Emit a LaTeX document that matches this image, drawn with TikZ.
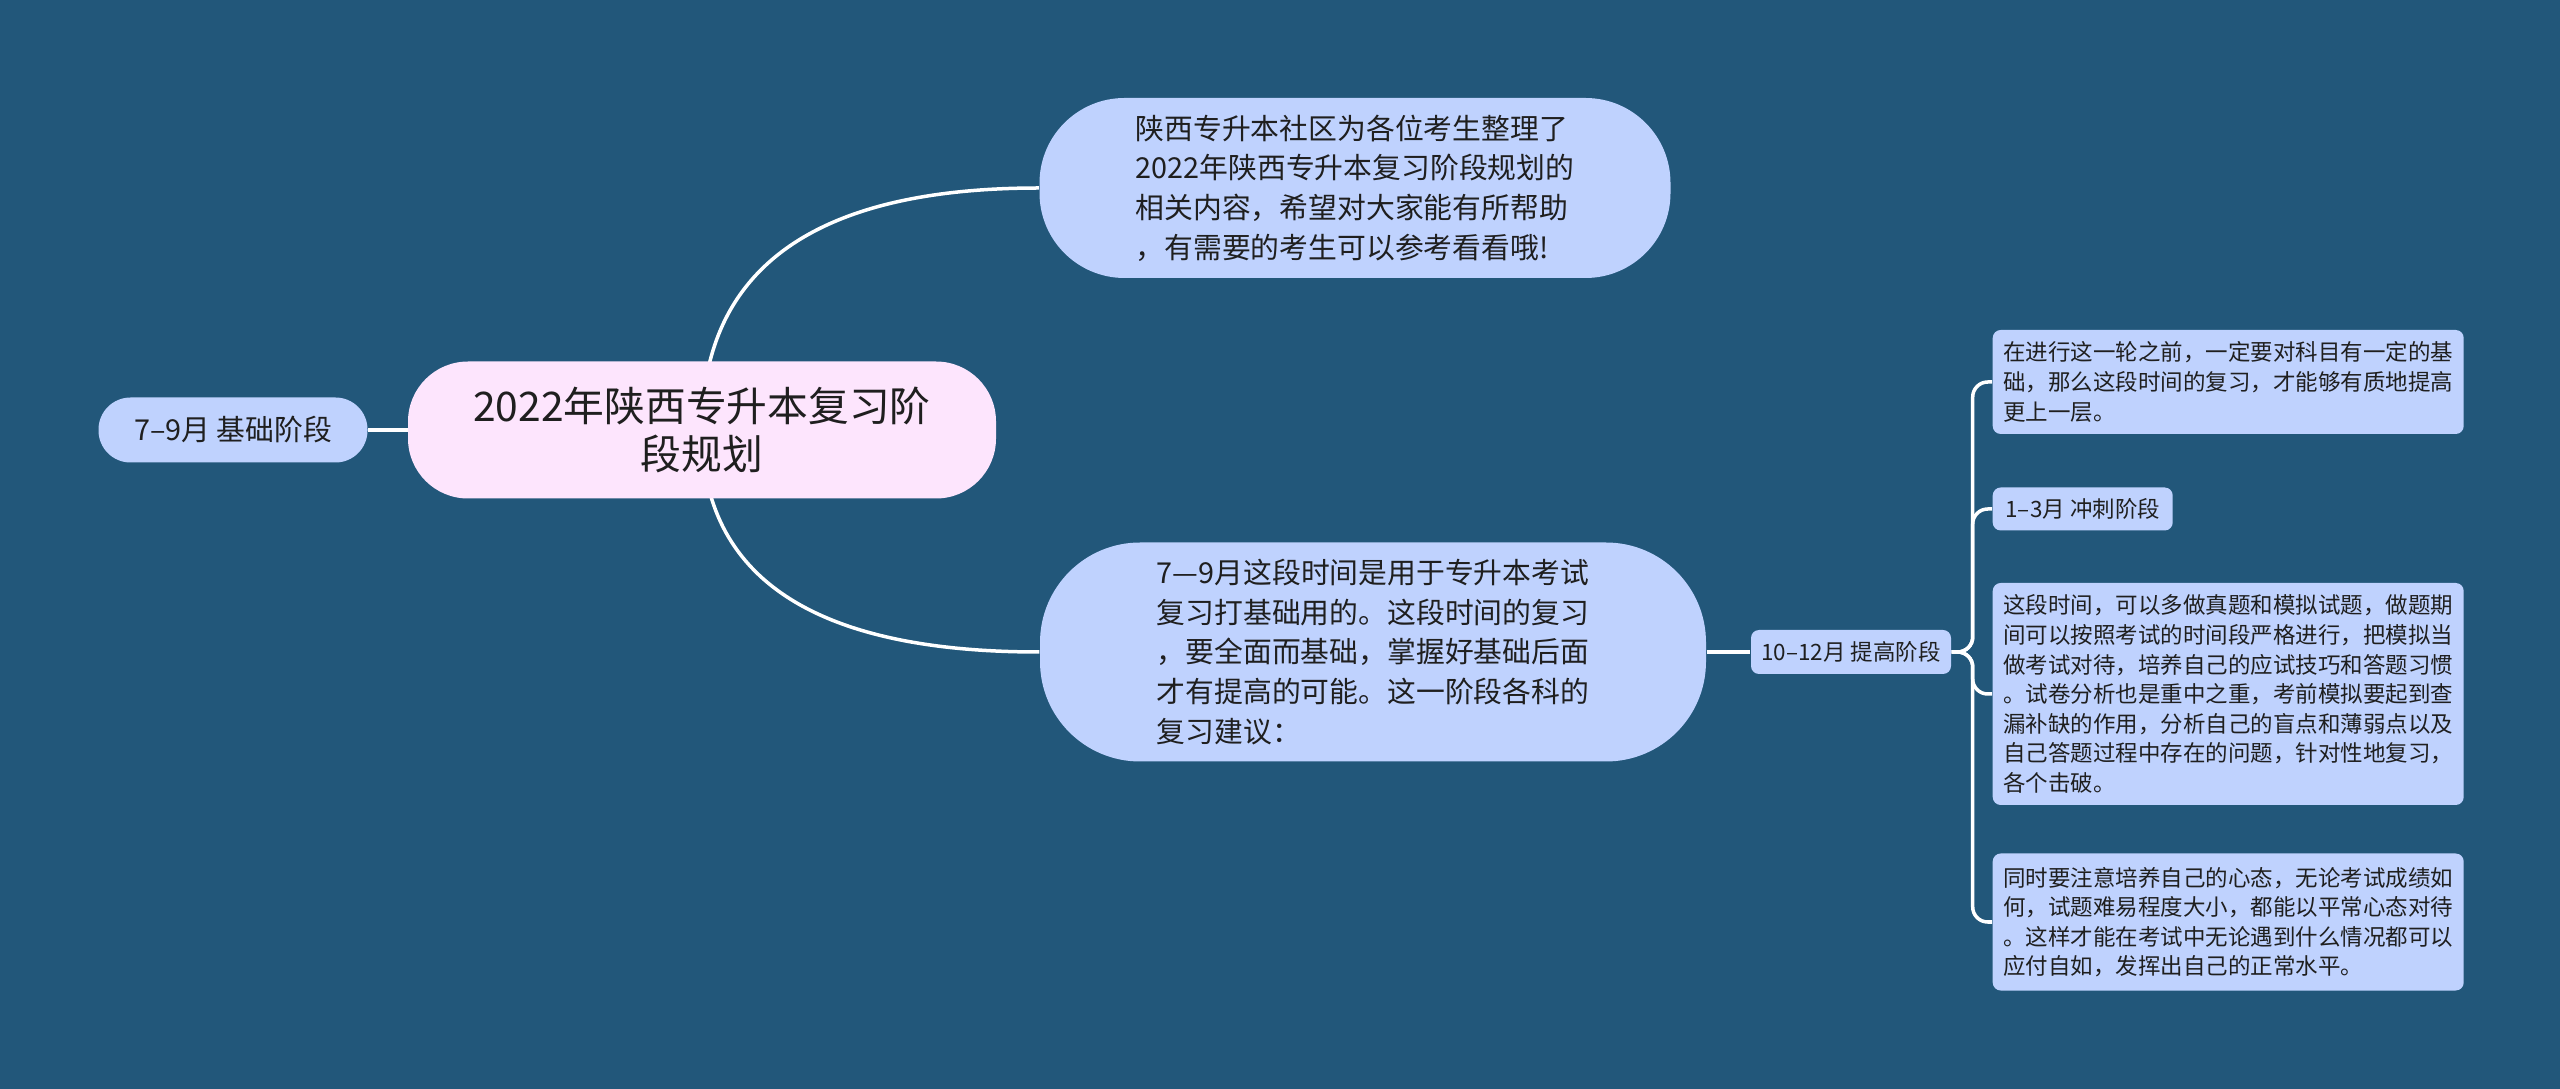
\documentclass[tikz,border=0pt]{standalone}
\usepackage{fontspec}
\newfontfamily\cjk{Noto Sans CJK SC}
\usetikzlibrary{calc}
\definecolor{bgblue}{HTML}{22577A}
\definecolor{nodeblue}{HTML}{BFD2FE}
\definecolor{rootpink}{HTML}{FDE5FD}
\definecolor{inkdark}{HTML}{1F1F1F}
\pgfdeclarelayer{bg}
\pgfdeclarelayer{edges}
\pgfsetlayers{bg,edges,main}
\begin{document}
\begin{tikzpicture}[
    every node/.style={inner sep=0pt,text=inkdark},
    rootbox/.style={fill=rootpink,rounded corners=.6cm,minimum width=5.88cm,minimum height=1.37cm,align=center,font=\cjk\fontsize{11.6}{13.5}\selectfont},
    bigbox/.style={fill=nodeblue,align=left,font=\cjk\fontsize{8.2}{11.3}\selectfont},
    tagbox/.style={fill=nodeblue,rounded corners=.08cm,font=\cjk\fontsize{6.4}{8.4}\selectfont},
    notebox/.style={tagbox,anchor=west,align=left,minimum width=4.71cm},
    link/.style={draw=white,line width=.035cm}
]
\useasboundingbox (0,0) rectangle (25.6,-10.89);
            \node(root)[rootbox] at (7.02,-4.30){2022年陕西专升本复习阶\\段规划};
            \node(basic)[bigbox,rounded corners=.32cm,minimum width=2.69cm,minimum height=.65cm] at (2.33,-4.30){7–9月 基础阶段};
            \node(intro)[bigbox,rounded corners=.85cm,minimum width=6.31cm,minimum height=1.80cm] at (13.55,-1.88){陕西专升本社区为各位考生整理了\\2022年陕西专升本复习阶段规划的\\相关内容，希望对大家能有所帮助\\，有需要的考生可以参考看看哦!};
            \node(advice)[bigbox,rounded corners=1cm,minimum width=6.66cm,minimum height=2.19cm] at (13.73,-6.52){7—9月这段时间是用于专升本考试\\复习打基础用的。这段时间的复习\\，要全面而基础，掌握好基础后面\\才有提高的可能。这一阶段各科的\\复习建议：};
            \node(raise)[tagbox,minimum width=2.0cm,minimum height=.44cm] at (18.51,-6.52){10–12月 提高阶段};
            \node(n1)[notebox,minimum height=1.04cm] at (19.92,-3.82){在进行这一轮之前，一定要对科目有一定的基\\础，那么这段时间的复习，才能够有质地提高\\更上一层。};
            \node(n2)[tagbox,anchor=west,minimum width=1.80cm,minimum height=.43cm] at (19.92,-5.09){1–3月 冲刺阶段};
            \node(n3)[notebox,minimum height=2.22cm] at (19.92,-6.94){这段时间，可以多做真题和模拟试题，做题期\\间可以按照考试的时间段严格进行，把模拟当\\做考试对待，培养自己的应试技巧和答题习惯\\。试卷分析也是重中之重，考前模拟要起到查\\漏补缺的作用，分析自己的盲点和薄弱点以及\\自己答题过程中存在的问题，针对性地复习，\\各个击破。};
            \node(n4)[notebox,minimum height=1.37cm] at (19.92,-9.22){同时要注意培养自己的心态，无论考试成绩如\\何，试题难易程度大小，都能以平常心态对待\\。这样才能在考试中无论遇到什么情况都可以\\应付自如，发挥出自己的正常水平。};
\begin{pgfonlayer}{bg}
            \fill[bgblue] (0,0) rectangle (25.6,-10.89);
\end{pgfonlayer}
\begin{pgfonlayer}{edges}
            \draw[link] (root.center) -- (basic.east);
            \draw[link] (root.center) .. controls ($(root.center)!2/3!(root.center|-intro.west)$) and ($(intro.west)!2/3!(root.center|-intro.west)$) .. (intro.west);
            \draw[link] (root.center) .. controls ($(root.center)!2/3!(root.center|-advice.west)$) and ($(advice.west)!2/3!(root.center|-advice.west)$) .. (advice.west);
            \draw[link] (advice.east) -- (raise.west);
            \foreach \n in {n1,n2,n3,n4}
                \draw[link,rounded corners=.15cm] (raise.east) -- ++(.21,0) |- (\n.west);
\end{pgfonlayer}
\end{tikzpicture}
\end{document}
